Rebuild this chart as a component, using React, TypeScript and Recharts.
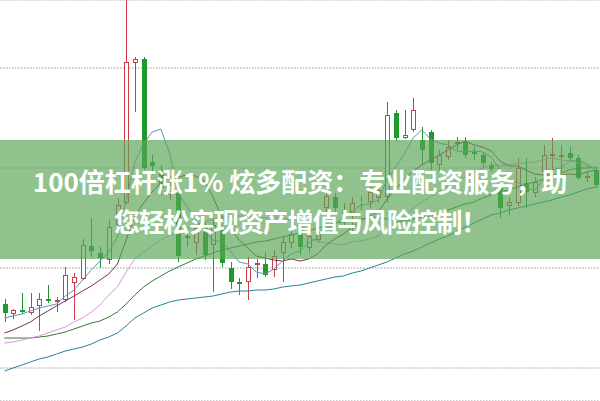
import { ComposedChart, Bar, Line, XAxis, YAxis, CartesianGrid } from "recharts";

const RED = "#d03c4c";
const GREEN = "#1f9a2a";

// 日K 开高低收
const opens = [
  9.64, 9.54, 9.58, 9.55, 9.62, 9.69, 9.66, 9.68, 9.85, 9.89,
  10.22, 10.15, 10.08, 10.43, 10.65, 12.05, 12.09, 11.06, 10.98, 10.73,
  10.76, 10.32, 10.25, 10.4, 10.23, 10.38, 10.0, 9.86, 9.86, 10.03,
  10.04, 9.98, 10.15, 10.25, 10.38, 10.2, 10.28, 10.6, 10.71, 10.56,
  10.55, 10.65, 10.66, 10.7, 10.71, 11.55, 11.3, 11.38, 11.28, 11.36,
  11.03, 11.11, 11.24, 11.26, 11.16, 11.13, 11.03, 10.8, 10.62, 10.65,
  10.85, 10.75, 10.96, 11.12, 11.11, 11.15, 11.1, 10.9, 10.98,
];
const closes = [
  9.55, 9.58, 9.56, 9.61, 9.69, 9.67, 9.68, 9.93, 9.91, 10.23,
  10.17, 10.1, 10.41, 10.63, 12.06, 12.09, 11.0, 11.02, 10.8, 10.83,
  10.12, 10.3, 10.4, 10.13, 10.43, 10.05, 9.86, 9.84, 10.01, 10.05,
  9.93, 10.12, 10.26, 10.34, 10.21, 10.32, 10.36, 10.72, 10.6, 10.54,
  10.65, 10.66, 10.76, 10.78, 11.53, 11.3, 11.33, 11.58, 11.18, 11.05,
  11.13, 11.21, 11.26, 11.13, 11.14, 11.05, 10.99, 10.6, 10.66, 11.0,
  10.76, 10.86, 11.13, 11.14, 11.13, 11.1, 10.9, 10.92, 10.83,
];
const highs = [
  9.69, 9.59, 9.75, 9.75, 9.75, 9.83, 9.71, 10.01, 9.95, 10.29,
  10.5, 10.21, 10.48, 10.7, 12.68, 12.11, 12.11, 11.13, 11.03, 10.88,
  10.82, 10.38, 10.46, 10.46, 10.48, 10.43, 10.06, 9.9, 10.11, 10.09,
  10.16, 10.18, 10.31, 10.4, 10.42, 10.38, 10.42, 10.78, 10.75, 10.65,
  10.71, 10.72, 10.81, 10.84, 11.66, 11.58, 11.58, 11.7, 11.41, 11.38,
  11.18, 11.28, 11.31, 11.31, 11.21, 11.16, 11.06, 10.88, 10.71, 11.1,
  11.1, 10.91, 11.23, 11.3, 11.23, 11.21, 11.13, 10.96, 11.01,
];
const lows = [
  9.46, 9.49, 9.55, 9.53, 9.37, 9.65, 9.56, 9.66, 9.48, 9.88,
  10.11, 10.0, 10.04, 10.4, 10.64, 11.56, 10.98, 10.93, 10.73, 10.68,
  10.06, 10.21, 10.13, 10.08, 9.76, 10.01, 9.79, 9.73, 9.68, 9.9,
  9.91, 9.91, 9.86, 10.2, 10.13, 10.15, 10.25, 10.55, 10.56, 10.41,
  10.35, 10.58, 10.6, 10.65, 10.65, 11.27, 11.29, 11.36, 11.03, 10.98,
  10.96, 11.08, 11.18, 11.1, 11.08, 11.0, 10.96, 10.5, 10.53, 10.62,
  10.6, 10.71, 10.95, 10.96, 10.96, 11.08, 10.88, 10.86, 10.8,
];

// 均线
const ma5 = [
  9.5, 9.52, 9.54, 9.57, 9.6, 9.62, 9.64, 9.72, 9.78, 9.88,
  9.98, 10.07, 10.16, 10.31, 10.67, 11.06, 11.24, 11.36, 11.39, 11.15,
  10.75, 10.61, 10.49, 10.36, 10.28, 10.26, 10.17, 10.06, 10.04, 9.96,
  9.94, 9.99, 10.07, 10.14, 10.17, 10.25, 10.3, 10.39, 10.44, 10.51,
  10.57, 10.63, 10.64, 10.68, 10.88, 11.01, 11.14, 11.3, 11.38, 11.29,
  11.25, 11.23, 11.17, 11.16, 11.17, 11.16, 11.11, 10.98, 10.89, 10.86,
  10.8, 10.78, 10.88, 10.98, 11.0, 11.07, 11.08, 11.04, 10.98,
];
const ma10 = [
  9.35, 9.38, 9.42, 9.46, 9.52, 9.57, 9.62, 9.67, 9.72, 9.77,
  9.82, 9.88, 9.94, 10.04, 10.28, 10.52, 10.65, 10.76, 10.85, 10.91,
  10.91, 10.93, 10.92, 10.87, 10.71, 10.51, 10.39, 10.28, 10.2, 10.12,
  10.1, 10.08, 10.07, 10.09, 10.07, 10.09, 10.14, 10.23, 10.29, 10.34,
  10.41, 10.47, 10.52, 10.56, 10.69, 10.79, 10.89, 10.97, 11.03, 11.08,
  11.13, 11.18, 11.23, 11.27, 11.23, 11.21, 11.17, 11.07, 11.02, 11.02,
  10.98, 10.94, 10.93, 10.93, 10.93, 10.94, 10.93, 10.96, 10.98,
];
const ma20 = [
  9.25, 9.26, 9.28, 9.3, 9.32, 9.35, 9.38, 9.41, 9.46, 9.5,
  9.56, 9.63, 9.73, 9.81, 9.96, 10.09, 10.16, 10.22, 10.28, 10.33,
  10.35, 10.39, 10.43, 10.46, 10.49, 10.51, 10.52, 10.52, 10.52, 10.51,
  10.5, 10.5, 10.5, 10.48, 10.39, 10.3, 10.27, 10.25, 10.24, 10.23,
  10.26, 10.27, 10.29, 10.32, 10.38, 10.44, 10.51, 10.6, 10.66, 10.71,
  10.77, 10.82, 10.87, 10.91, 10.96, 11.0, 11.03, 11.02, 11.03, 11.05,
  11.05, 11.06, 11.08, 11.1, 11.08, 11.07, 11.05, 11.02, 11.0,
];
const ma30 = [
  9.3, 9.3, 9.3, 9.3, 9.31, 9.32, 9.34, 9.36, 9.39, 9.42,
  9.45, 9.47, 9.51, 9.56, 9.64, 9.73, 9.81, 9.87, 9.92, 9.97,
  10.01, 10.05, 10.09, 10.12, 10.15, 10.18, 10.2, 10.22, 10.24, 10.26,
  10.27, 10.29, 10.31, 10.33, 10.35, 10.37, 10.4, 10.42, 10.45, 10.46,
  10.47, 10.49, 10.5, 10.51, 10.49, 10.46, 10.47, 10.49, 10.51, 10.51,
  10.55, 10.58, 10.61, 10.64, 10.66, 10.7, 10.73, 10.76, 10.78, 10.81,
  10.84, 10.86, 10.89, 10.92, 10.95, 10.98, 11.0, 11.0, 11.01,
];
const ma60 = [
  8.97, 9.0, 9.03, 9.06, 9.09, 9.11, 9.14, 9.17, 9.19, 9.21,
  9.24, 9.28, 9.31, 9.35, 9.42, 9.5, 9.55, 9.6, 9.63, 9.66,
  9.68, 9.69, 9.7, 9.71, 9.72, 9.74, 9.76, 9.77, 9.77, 9.78,
  9.78, 9.79, 9.81, 9.82, 9.83, 9.85, 9.87, 9.89, 9.91, 9.92,
  9.95, 9.97, 10.0, 10.03, 10.06, 10.1, 10.14, 10.17, 10.21, 10.25,
  10.29, 10.32, 10.37, 10.41, 10.45, 10.49, 10.53, 10.55, 10.58, 10.6,
  10.62, 10.64, 10.66, 10.68, 10.71, 10.73, 10.76, 10.79, 10.81,
];

const priceTicks = [9, 10, 11, 12];

const data = opens.map((open, i) => ({
  idx: i,
  open,
  close: closes[i],
  high: highs[i],
  low: lows[i],
  range: [lows[i], highs[i]],
  ma5: ma5[i],
  ma10: ma10[i],
  ma20: ma20[i],
  ma30: ma30[i],
  ma60: ma60[i],
}));

const maLines = [
  { key: "ma60", color: "#23849a" },
  { key: "ma30", color: "#2f7a37" },
  { key: "ma20", color: "#e290dd" },
  { key: "ma10", color: "#7a3050" },
  { key: "ma5", color: "#5f95b5" },
];

// eslint-disable-next-line @typescript-eslint/no-explicit-any
function Candle(props: any) {
  const { x, y, width, height, payload } = props;
  if (!payload) return null;
  const { open, close, high, low } = payload;
  const top = Math.min(y, y + height);
  const h = Math.abs(height);
  const k = high === low ? 0 : h / (high - low);
  const py = (v: number) => top + (high - v) * k;
  const c = Math.round(x + width / 2);
  const wx = c + 0.5;
  const up = close > open;
  const color = up ? RED : GREEN;
  const bTop = Math.round(py(Math.max(open, close)));
  const bBot = Math.max(Math.round(py(Math.min(open, close))), bTop + 1);
  const yHigh = py(high);
  const yLow = py(low);

  if (up) {
    return (
      <g>
        <line x1={wx} x2={wx} y1={yHigh} y2={bTop} stroke={color} strokeWidth={1} />
        <line x1={wx} x2={wx} y1={bBot} y2={yLow} stroke={color} strokeWidth={1} />
        <rect
          x={c - 1.5}
          y={bTop + 0.5}
          width={4}
          height={Math.max(bBot - bTop - 1, 0)}
          fill="#fff"
          stroke={color}
          strokeWidth={1}
        />
      </g>
    );
  }
  return (
    <g>
      <line x1={wx} x2={wx} y1={yHigh} y2={yLow} stroke={color} strokeWidth={1} />
      <rect x={c - 2} y={bTop} width={5} height={bBot - bTop} fill={color} />
    </g>
  );
}

export default function App() {
  return (
    <div
      style={{
        position: "absolute",
        left: 0,
        top: 0,
        width: 600,
        height: 401,
        background: "#fff",
        overflow: "hidden",
      }}
    >
      <ComposedChart
        width={600}
        height={401}
        data={data}
        margin={{ top: 0, right: 0, bottom: 0, left: 0 }}
      >
        <CartesianGrid vertical={false} stroke="#9a9a9a" strokeDasharray="1.5 1.5" />
        <XAxis dataKey="idx" hide />
        <YAxis hide domain={[8.67, 12.68]} ticks={priceTicks} allowDataOverflow />
        <Bar
          dataKey="range"
          barSize={5}
          shape={<Candle />}
          activeBar={false}
          isAnimationActive={false}
        />
        {maLines.map((m) => (
          <Line
            key={m.key}
            type="linear"
            dataKey={m.key}
            stroke={m.color}
            strokeWidth={1}
            dot={false}
            activeDot={false}
            isAnimationActive={false}
          />
        ))}
      </ComposedChart>
      <div
        style={{
          position: "absolute",
          left: 0,
          top: 140,
          width: 600,
          height: 119,
          background: "rgba(90,165,85,0.68)",
          color: "#fff",
          fontFamily: '"Noto Sans CJK SC", "Noto Sans", sans-serif',
          fontWeight: 700,
          fontSize: 26,
          lineHeight: "40px",
          textAlign: "center",
          paddingTop: 21,
          boxSizing: "border-box",
        }}
      >
        <div>100倍杠杆涨1% 炫多配资：专业配资服务，助</div>
        <div style={{ letterSpacing: -1.2 }}>您轻松实现资产增值与风险控制！</div>
      </div>
    </div>
  );
}
